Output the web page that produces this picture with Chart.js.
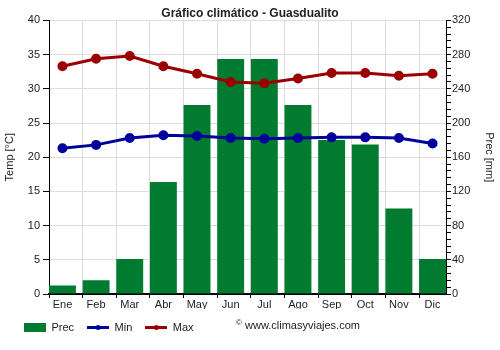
<!DOCTYPE html>
<html><head><meta charset="utf-8">
<script src="https://cdn.jsdelivr.net/npm/chart.js@4/dist/chart.umd.min.js"></script>
<style>html,body{margin:0;padding:0;background:#fff}#wrap{width:500px;height:350px}</style>
</head><body><div id="wrap"><canvas id="c" width="500" height="350"></canvas></div>
<script>
const months = ['Ene','Feb','Mar','Abr','May','Jun','Jul','Ago','Sep','Oct','Nov','Dic'];
const prec = [10, 16, 41, 131, 221, 275, 275, 221, 180, 175, 100, 41];
const tmin = [21.3, 21.8, 22.8, 23.2, 23.1, 22.8, 22.7, 22.8, 22.9, 22.9, 22.8, 22.0];
const tmax = [33.3, 34.4, 34.8, 33.3, 32.2, 31.0, 30.8, 31.5, 32.3, 32.3, 31.9, 32.2];
const tempAxis = {min: 0, max: 40, step: 5};
const precAxis = {min: 0, max: 320, step: 40, minorStep: 8};
const titleText = 'Gráfico climático - Guasdualito';
const seriesNames = ['Prec', 'Min', 'Max'];
const axisTitles = ['Temp [°C]', 'Prec [mm]'];
const credit = 'www.climasyviajes.com';

const GREEN = '#007b30', BLUE = '#00009b', RED = '#9b0000';
Chart.defaults.font.family = "'Liberation Sans', Arial, sans-serif";
Chart.defaults.font.size = 11;
Chart.defaults.color = '#222';

function icon(kind, color) {
  const c = document.createElement('canvas');
  c.width = 22; c.height = 9;
  const g = c.getContext('2d');
  if (kind === 'box') { g.fillStyle = color; g.fillRect(0, 0, 22, 9); }
  else {
    g.fillStyle = color; g.fillRect(0, 3, 22, 3);
    g.beginPath(); g.arc(11, 4.5, 2.5, 0, Math.PI * 2); g.fill();
  }
  return c;
}
const legendIcons = [icon('box', GREEN), icon('line', BLUE), icon('line', RED)];

const xy = arr => arr.map((v, i) => ({x: i, y: v}));

const creditPlugin = {
  id: 'credit',
  afterLayout(chart) { chart.legend.left = 11; },
  afterDraw(chart) {
    const ctx = chart.ctx;
    ctx.save();
    ctx.fillStyle = '#222';
    ctx.textBaseline = 'middle';
    ctx.font = "8px 'Liberation Sans', Arial, sans-serif";
    ctx.fillText('©', 236, 323);
    ctx.font = "11px 'Liberation Sans', Arial, sans-serif";
    ctx.fillText(credit, 245, 326);
    ctx.restore();
  }
};

new Chart(document.getElementById('c'), {
  type: 'bar',
  data: {
    datasets: [
      {type: 'bar', label: seriesNames[0], data: xy(prec), yAxisID: 'y1', xAxisID: 'x',
       backgroundColor: GREEN, borderWidth: 0, barPercentage: 0.8, categoryPercentage: 1, order: 1},
      {type: 'line', label: seriesNames[1], data: xy(tmin), yAxisID: 'y', xAxisID: 'x',
       borderColor: BLUE, backgroundColor: BLUE, borderWidth: 3, pointRadius: 3.5, pointHoverRadius: 3.5, order: 0},
      {type: 'line', label: seriesNames[2], data: xy(tmax), yAxisID: 'y', xAxisID: 'x',
       borderColor: RED, backgroundColor: RED, borderWidth: 3, pointRadius: 3.5, pointHoverRadius: 3.5, order: 0}
    ]
  },
  options: {
    responsive: false,
    animation: false,
    devicePixelRatio: 1,
    layout: {padding: {top: 0, bottom: 7, left: 0, right: 0}},
    plugins: {
      title: {display: true, text: titleText, font: {size: 12, weight: 'bold'}, color: '#222', padding: {top: 6, bottom: 0}},
      legend: {
        position: 'bottom', align: 'start',
        labels: {
          usePointStyle: true, pointStyleWidth: 22, boxHeight: 9, padding: 13, color: '#222', font: {size: 11},
          sort: (a, b) => a.datasetIndex - b.datasetIndex,
          generateLabels: chart => {
            const items = Chart.defaults.plugins.legend.labels.generateLabels(chart);
            items.forEach(it => { it.pointStyle = legendIcons[it.datasetIndex]; });
            return items;
          }
        }
      },
      tooltip: {enabled: false}
    },
    scales: {
      x: {
        type: 'linear', position: 'bottom', weight: 1, min: -0.4, max: 11.4, offset: false,
        grid: {display: false, drawTicks: false, offset: false}, border: {display: false},
        ticks: {stepSize: 1, includeBounds: false, autoSkip: false, maxRotation: 0, maxTicksLimit: 50, padding: 0,
                color: '#222', callback: v => (Number.isInteger(v) && months[v]) ? months[v] : ''},
        afterFit: s => { s.height = 11; }
      },
      x2: {
        type: 'linear', position: 'bottom', weight: 0, min: 0, max: 11.8, offset: false,
        grid: {color: '#dcdcdc', tickColor: '#000', tickLength: 4, offset: false},
        border: {color: '#000', width: 2},
        ticks: {display: false, stepSize: 1, includeBounds: false, maxTicksLimit: 50}
      },
      y: {
        position: 'left', min: tempAxis.min, max: tempAxis.max,
        ticks: {stepSize: tempAxis.step, padding: 3, color: '#222'},
        grid: {color: '#dcdcdc', tickColor: '#000', tickLength: 6},
        border: {color: '#000'},
        title: {display: true, text: axisTitles[0], color: '#222', font: {size: 11}, padding: {top: 3, bottom: 0}},
        afterFit: s => { s.width = 49; }
      },
      y1: {
        position: 'right', min: precAxis.min, max: precAxis.max,
        ticks: {stepSize: precAxis.minorStep, autoSkip: false, maxTicksLimit: 100, padding: 1, color: '#222',
                callback: v => (v % precAxis.step === 0) ? String(v) : ''},
        grid: {drawOnChartArea: false, tickColor: '#000', tickLength: 5},
        border: {color: '#000'},
        title: {display: true, text: axisTitles[1], color: '#222', font: {size: 11}, padding: {top: 4, bottom: 0}},
        afterFit: s => { s.width = 54; }
      }
    }
  },
  plugins: [creditPlugin]
});
</script></body></html>
